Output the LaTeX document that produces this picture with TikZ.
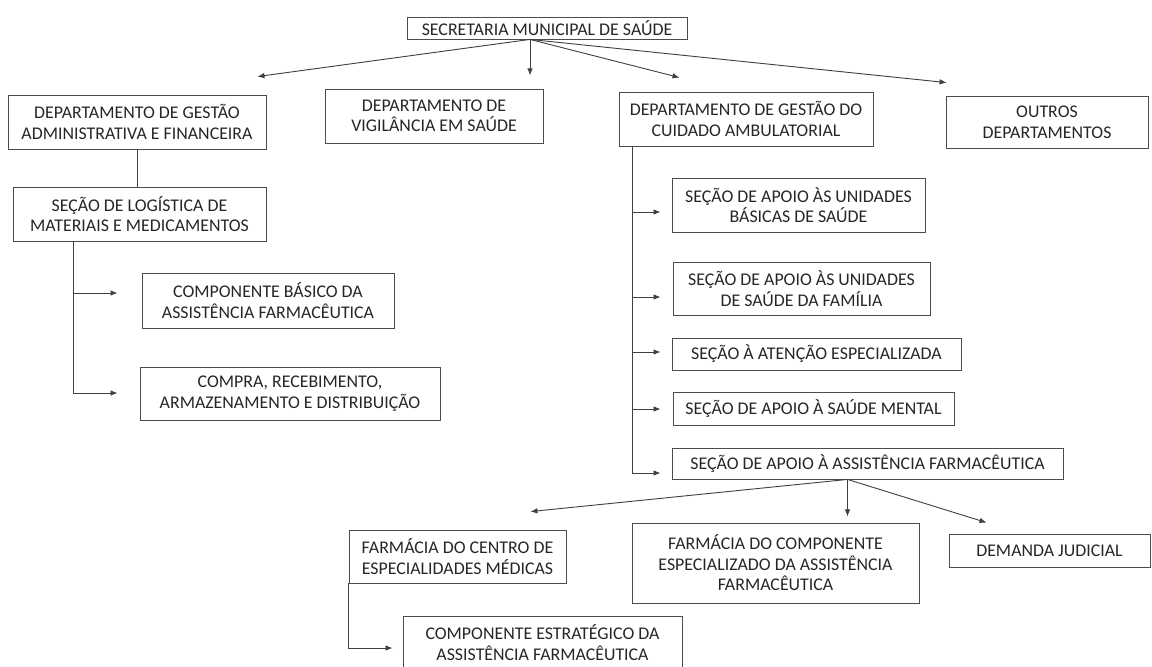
\documentclass[tikz,border=0pt]{standalone}
\usepackage{fontspec}
\setmainfont{Carlito}
\usepackage{tikz}
\usetikzlibrary{arrows.meta, positioning, calc}

\tikzset{
  box/.style={draw=black!70, line width=0.6pt, align=center, inner sep=2pt,
    font=\fontsize{12.7}{14.6}\selectfont, text=black!85},
  link/.style={draw=black!75, line width=0.65pt},
  arr/.style={link, -{Latex[length=5pt, width=4pt]}},
}

\begin{document}
\begin{tikzpicture}[x=0.025cm, y=-0.025cm]
    \useasboundingbox (0,0) rectangle (1152,666);

    \node[box, minimum width=7cm, minimum height=0.55cm] (sec) at (547, 28) {SECRETARIA MUNICIPAL DE SAÚDE};
    \node[box, minimum width=6.45cm, minimum height=1.35cm] (dga) at (137, 122) {DEPARTAMENTO DE GESTÃO\\ADMINISTRATIVA E FINANCEIRA};
    \node[box, minimum width=5.45cm, minimum height=1.35cm] (dvs) at (434, 116) {DEPARTAMENTO DE\\VIGILÂNCIA EM SAÚDE};
    \node[box, minimum width=6.35cm, minimum height=1.35cm] (dgc) at (746, 119) {DEPARTAMENTO DE GESTÃO DO\\CUIDADO AMBULATORIAL};
    \node[box, minimum width=5.05cm, minimum height=1.3cm] (outros) at (1047, 122) {OUTROS\\DEPARTAMENTOS};
    \node[box, minimum width=6.325cm, minimum height=1.35cm] (slm) at (139.5, 214) {SEÇÃO DE LOGÍSTICA DE\\MATERIAIS E MEDICAMENTOS};
    \node[box, minimum width=6.3cm, minimum height=1.375cm] (cbaf) at (268, 300.5) {COMPONENTE BÁSICO DA\\ASSISTÊNCIA FARMACÊUTICA};
    \node[box, minimum width=7.5cm, minimum height=1.325cm] (crad) at (290, 393.5) {COMPRA, RECEBIMENTO,\\ARMAZENAMENTO E DISTRIBUIÇÃO};
    \node[box, minimum width=6.325cm, minimum height=1.35cm] (subs) at (798.5, 205) {SEÇÃO DE APOIO ÀS UNIDADES\\BÁSICAS DE SAÚDE};
    \node[box, minimum width=6.425cm, minimum height=1.325cm] (susf) at (801.5, 288.5) {SEÇÃO DE APOIO ÀS UNIDADES\\DE SAÚDE DA FAMÍLIA};
    \node[box, minimum width=7.225cm, minimum height=0.8cm] (sae) at (816.5, 354) {SEÇÃO À ATENÇÃO ESPECIALIZADA};
    \node[box, minimum width=7.025cm, minimum height=0.825cm] (ssm) at (813.5, 408.5) {SEÇÃO DE APOIO À SAÚDE MENTAL};
    \node[box, minimum width=9.775cm, minimum height=0.775cm] (saf) at (867.5, 463.5) {SEÇÃO DE APOIO À ASSISTÊNCIA FARMACÊUTICA};
    \node[box, minimum width=5.425cm, minimum height=1.325cm] (fcem) at (457.5, 556.5) {FARMÁCIA DO CENTRO DE\\ESPECIALIDADES MÉDICAS};
    \node[box, minimum width=7.175cm, minimum height=2cm] (fcesp) at (775.5, 563) {FARMÁCIA DO COMPONENTE\\ESPECIALIZADO DA ASSISTÊNCIA\\FARMACÊUTICA};
    \node[box, minimum width=5.025cm, minimum height=0.825cm] (dj) at (1049.5, 550.5) {DEMANDA JUDICIAL};
    \node[box, minimum width=6.975cm, minimum height=1.325cm] (cest) at (542.5, 642.5) {COMPONENTE ESTRATÉGICO DA\\ASSISTÊNCIA FARMACÊUTICA};

    \coordinate (secb) at ($(sec.south)+(-17,0)$);
    \coordinate (slmb) at ($(slm.south west)+(61,0)$);
    \coordinate (dgcb) at ($(dgc.south west)+(14,0)$);
    \coordinate (safb) at ($(saf.south)+(-20,0)$);

    \draw[arr] (secb) -- ($(dga.north east)+(-9,-18)$);
    \draw[arr] (secb) -- ++(0,36);
    \draw[arr] (secb) -- ($(dgc.north west)+(61,-14)$);
    \draw[arr] (secb) -- ($(outros.north west)+(1,-13)$);

    \draw[link] (dga.south) -- (dga.south |- slm.north);
    \draw[arr] (slmb) |- ($(cbaf.west)+(-24,-7.5)$);
    \draw[arr] (slmb) |- ($(crad.west)+(-22,-0.5)$);

    \draw[arr] (dgcb) |- ($(subs.west)+(-11,7)$);
    \draw[arr] (dgcb) |- ($(susf.west)+(-12,8.5)$);
    \draw[arr] (dgcb) |- ($(sae.west)+(-11,-2)$);
    \draw[arr] (dgcb) |- ($(ssm.west)+(-12,0.5)$);
    \draw[arr] (dgcb) |- ($(saf.west)+(-11,9.5)$);

    \draw[arr] (safb) -- ($(fcem.north east)+(-36,-18)$);
    \draw[arr] (safb) -- ++(0,37);
    \draw[arr] (safb) -- ($(dj.north west)+(38,-11)$);

    \draw[arr] (fcem.south west) |- ($(cest.west)+(-10,5.5)$);
\end{tikzpicture}
\end{document}
